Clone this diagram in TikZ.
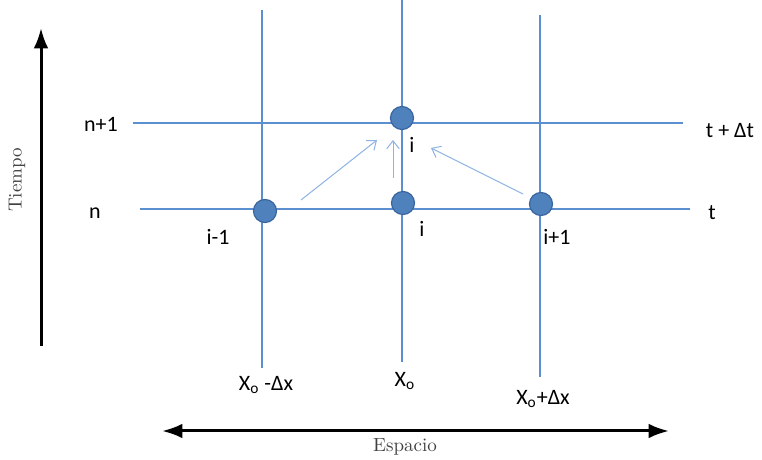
\documentclass[tikz,border=0pt]{standalone}
\usepackage{fontspec}
\newfontfamily\carlito{Carlito}
\usetikzlibrary{arrows.meta}
\definecolor{gridblue}{HTML}{5B8FD0}
\definecolor{dotblue}{HTML}{4F81BD}
\definecolor{dotedge}{HTML}{3A66A0}
\definecolor{arrblue}{HTML}{8DB3E2}
\tikzset{
  grid/line/.style={gridblue, line width=0.8pt},
  grid/point/.style={circle, fill=dotblue, draw=dotedge, line width=0.6pt, minimum size=11.5pt, inner sep=0pt},
  grid/label/.style={font=\carlito\fontsize{11}{13}\selectfont, inner sep=1pt},
  axis/label/.style={font=\rmfamily\fontsize{9.5}{11}\selectfont, text=black!75, inner sep=1pt},
  axis/arr/.style={line width=1.5pt, -{Latex[length=3.6mm,width=2.6mm]}},
  axis/darr/.style={line width=1.5pt, {Latex[length=3.6mm,width=2.6mm]}-{Latex[length=3.6mm,width=2.6mm]}},
  stencil/arr/.style={arrblue, line width=0.5pt, -{Straight Barb[length=1.4mm,width=2.2mm]}}
}
\begin{document}
\begin{tikzpicture}[x=0.5pt,y=-0.5pt]
\useasboundingbox (0,0) rectangle (762,460);
% malla
\coordinate (v1t) at (262,10);  \coordinate (v1b) at (262,368);
\coordinate (v2t) at (402,0);   \coordinate (v2b) at (402,362);
\coordinate (v3t) at (540,15);  \coordinate (v3b) at (540,377);
\coordinate (h1l) at (133,123); \coordinate (h1r) at (683,123);
\coordinate (h2l) at (140,209); \coordinate (h2r) at (690,209);
\draw[grid/line] (v1t) -- (v1b);
\draw[grid/line] (v2t) -- (v2b);
\draw[grid/line] (v3t) -- (v3b);
\draw[grid/line] (h1l) -- (h1r);
\draw[grid/line] (h2l) -- (h2r);

% puntos
\node[grid/point] (up) at (402,118) {};
\node[grid/point] (im1) at (265,211) {};
\node[grid/point] (i0) at (403,203) {};
\node[grid/point] (ip1) at (541,204) {};

% flechas
\coordinate (a1s) at (301,200); \coordinate (a1e) at (377,140);
\coordinate (a2s) at (393,178); \coordinate (a2e) at (393,140);
\coordinate (a3s) at (523,194); \coordinate (a3e) at (431,148);
\draw[stencil/arr] (a1s) -- (a1e);
\draw[stencil/arr] (a2s) -- (a2e);
\draw[stencil/arr] (a3s) -- (a3e);

% etiquetas
\node[grid/label] (lup) at (412,145) {i};
\node[grid/label] (li0) at (422,229) {i};
\node[grid/label] (lim1) at (218,237) {i-1};
\node[grid/label] (lip1) at (557,237) {i+1};
\node[grid/label] (ln1) at (101,124) {n+1};
\node[grid/label] (ln) at (95,213) {n};
\node[grid/label] (ltdt) at (730,131) {t + Δt};
\node[grid/label] (lt) at (712,213) {t};
\node[grid/label] (lxm) at (266,385) {X\textsubscript{o} -Δx};
\node[grid/label] (lx0) at (405,381) {X\textsubscript{o}};
\node[grid/label] (lxp) at (543,399) {X\textsubscript{o}+Δx};

% ejes
\coordinate (tb) at (41,346); \coordinate (tt) at (41,28);
\coordinate (el) at (162,431); \coordinate (er) at (669,431);
\draw[axis/arr] (tb) -- (tt);
\draw[axis/darr] (el) -- (er);
\node[axis/label, rotate=90] (tiempo) at (17,180) {Tiempo};
\node[axis/label] (espacio) at (405,447) {Espacio};
\end{tikzpicture}
\end{document}
